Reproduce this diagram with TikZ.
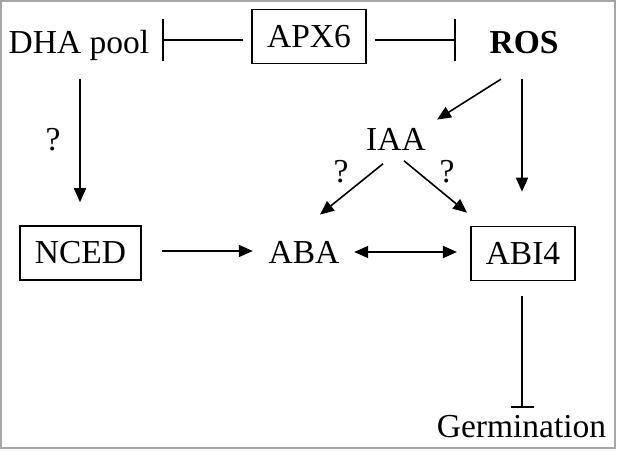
\documentclass[tikz,border=0pt]{standalone}
\usepackage{fontspec}
\setmainfont{Liberation Serif}
\usetikzlibrary{arrows.meta,calc}

\begin{document}
\begin{tikzpicture}[x=1pt,y=-1pt,line width=1.6pt,>={Triangle[length=14pt,width=12pt]},
    txt/.style = {inner sep=0pt, anchor=base, font=\fontsize{33.5}{40}\selectfont},
    box/.style = {draw, inner xsep=15pt, minimum height=54pt, font=\fontsize{33.5}{40}\selectfont},
    inh/.style = {-{Bar[width=#1]}}, inh/.default=42pt]
    % Rahmen
    \useasboundingbox (0,0) rectangle (617,450);
    \draw[gray!70, line width=2pt] (1,1) rectangle (615,448);

    % Knoten
    \node[txt] (DHA) at (79,53) {DHA pool};
    \node[box] (APX6) at (309,36.5) {APX6};
    \node[txt, font=\fontsize{33.5}{40}\selectfont\bfseries] (ROS) at (524,53) {ROS};
    \node[txt] (IAA) at (396,150) {IAA};
    \node[box] (NCED) at (80.5,253) {NCED};
    \node[txt] (ABA) at (304,263) {ABA};
    \node[box] (ABI4) at (523,253.5) {ABI4};
    \node[txt] (Germ) at (521.5,437) {Germination};

    % Fragezeichen
    \node[txt] (Q1) at (53,150) {?};
    \node[txt] (Q2) at (341,182) {?};
    \node[txt] (Q3) at (447,182) {?};

    % Hemmung durch APX6
    \draw[inh] ($(APX6.west)+(-8,3.5)$) -- ($(DHA.east |- APX6.west)+(12,3.5)$);
    \draw[inh] ($(APX6.east)+(8,3.5)$) -- ($(ROS.west |- APX6.east)+(-33,3.5)$);

    % ROS und IAA
    \draw[->] ($(ROS.south)+(-23,25)$) -- ($(IAA.north)+(41,-7.5)$);
    \draw[->] ($(ROS.south)+(-2,25)$) -- ($(ABI4.north)+(-1,-34)$);
    \draw[->] ($(IAA.south)+(-13,13)$) -- ($(ABA.north)+(16,-25.5)$);
    \draw[->] ($(IAA.south)+(8,10)$) -- ($(ABI4.north)+(-56,-13)$);

    % DHA pool -> NCED -> ABA <-> ABI4
    \draw[->] ($(DHA.south)+(1,18)$) -- ($(NCED.north)+(-0.5,-23)$);
    \draw[->] ($(NCED.east)+(20,-2)$) -- ($(ABA.west |- NCED.east)+(-15,-2)$);
    \draw[<->] ($(ABA.east)+(14,0)$) -- ($(ABI4.west |- ABA.east)+(-13,0)$);

    % Keimung
    \draw[inh=23pt] ($(ABI4.south)+(-1,15)$) -- ($(Germ.north)+(0.5,-6.5)$);
\end{tikzpicture}
\end{document}
